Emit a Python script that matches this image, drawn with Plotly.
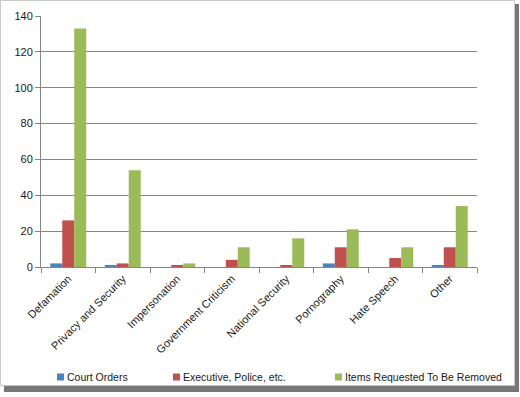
import plotly.graph_objects as go

categories = ["Defamation", "Privacy and Security", "Impersonation", "Government Criticism",
              "National Security", "Pornography", "Hate Speech", "Other"]
court_orders = [2, 1, 0, 0, 0, 2, 0, 1]
executive_police = [26, 2, 1, 4, 1, 11, 5, 11]
items_removed = [133, 54, 2, 11, 16, 21, 11, 34]
series_names = ["Court Orders", "Executive, Police, etc.", "Items Requested To Be Removed"]
colors = ["#4F81BD", "#C0504D", "#9BBB59"]
y_ticks = [0, 20, 40, 60, 80, 100, 120, 140]

W, H = 520, 397
ML, MR, MT, MB = 41, 43, 16, 130
PW, PH = W - ML - MR, H - MT - MB

def px_x(p):
    return (p - ML) / PW

def px_y(p):
    return (H - MB - p) / PH

fig = go.Figure()
for name, vals, col in zip(series_names, [court_orders, executive_police, items_removed], colors):
    fig.add_trace(go.Bar(x=categories, y=vals, name=name, marker=dict(color=col, line=dict(width=0)),
                         showlegend=False))

font = dict(family="Liberation Sans, Arial, sans-serif", size=11, color="#1a1a1a")
legend_font = dict(family="Liberation Sans, Arial, sans-serif", size=10.5, color="#1a1a1a")

shapes = [
    dict(type="rect", xref="paper", yref="paper", x0=px_x(4), x1=px_x(519), y0=px_y(392), y1=px_y(4),
         fillcolor="#777777", line=dict(width=0), layer="below"),
    dict(type="rect", xref="paper", yref="paper", x0=px_x(0.5), x1=px_x(514.5), y0=px_y(385.5), y1=px_y(0.5),
         fillcolor="white", line=dict(width=1, color="#c8c8c8"), layer="below"),
]
annotations = []
legend_marker_x = [57, 173, 335]
legend_y = 377
for name, col, mx in zip(series_names, colors, legend_marker_x):
    shapes.append(dict(type="rect", xref="paper", yref="paper", x0=px_x(mx), x1=px_x(mx + 7),
                       y0=px_y(legend_y + 3.5), y1=px_y(legend_y - 3.5), fillcolor=col, line=dict(width=0)))
    annotations.append(dict(text=name, xref="paper", yref="paper", x=px_x(mx + 8), y=px_y(legend_y),
                            xanchor="left", yanchor="middle", showarrow=False, font=legend_font))

fig.update_layout(
    width=W, height=H,
    margin=dict(l=ML, r=MR, t=MT, b=MB, autoexpand=False),
    paper_bgcolor="white", plot_bgcolor="white",
    font=font,
    barmode="group", bargap=0.34, bargroupgap=0,
    showlegend=False,
    xaxis=dict(showline=True, linecolor="#868686", linewidth=1, ticks="outside", ticklen=5,
               tickcolor="#868686", tickson="boundaries", tickangle=-45, showgrid=False,
               tickfont=font, automargin=False),
    yaxis=dict(range=[0, 140], tickvals=y_ticks, showline=True, linecolor="#868686", linewidth=1,
               ticks="outside", ticklen=5, tickcolor="#868686", showgrid=True,
               gridcolor="#868686", gridwidth=1, zeroline=False, tickfont=font, automargin=False),
    shapes=shapes,
    annotations=annotations,
)

fig.write_html("out.html", config={"displayModeBar": False},
               post_script="document.body.style.margin='0px';")
